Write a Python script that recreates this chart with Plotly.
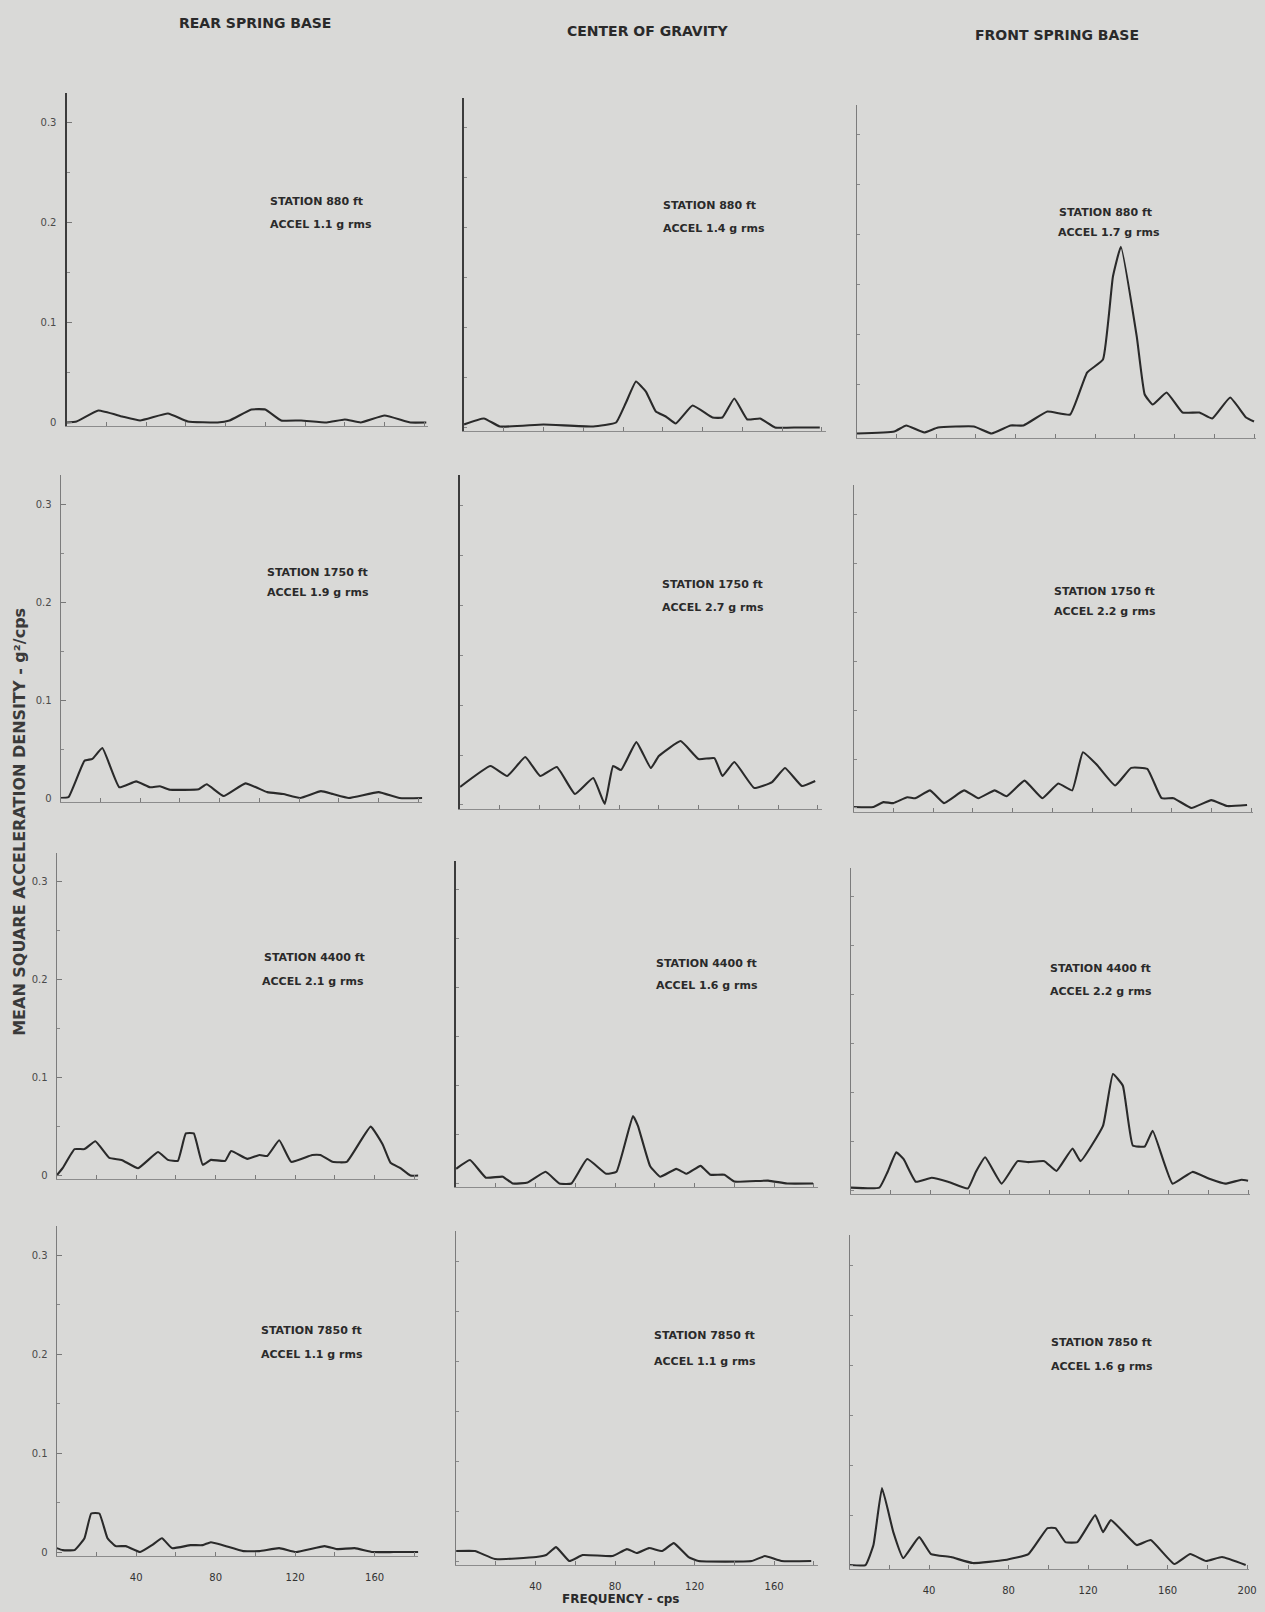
import plotly.graph_objects as go

W, H = 1265, 1612

column_titles = ["REAR SPRING BASE", "CENTER OF GRAVITY", "FRONT SPRING BASE"]
station_labels = [
    ["STATION 880 ft", "STATION 880 ft", "STATION 880 ft"],
    ["STATION 1750 ft", "STATION 1750 ft", "STATION 1750 ft"],
    ["STATION 4400 ft", "STATION 4400 ft", "STATION 4400 ft"],
    ["STATION 7850 ft", "STATION 7850 ft", "STATION 7850 ft"],
]
accel_labels = [
    ["ACCEL 1.1 g rms", "ACCEL 1.4 g rms", "ACCEL 1.7 g rms"],
    ["ACCEL 1.9 g rms", "ACCEL 2.7 g rms", "ACCEL 2.2 g rms"],
    ["ACCEL 2.1 g rms", "ACCEL 1.6 g rms", "ACCEL 2.2 g rms"],
    ["ACCEL 1.1 g rms", "ACCEL 1.1 g rms", "ACCEL 1.6 g rms"],
]
y_tick_vals = [0, 0.1, 0.2, 0.3]
y_tick_text = ["0", "0.1", "0.2", "0.3"]
x_tick_vals = [20, 40, 60, 80, 100, 120, 140, 160, 180, 200]
x_label_vals = [40, 80, 120, 160, 200]

# ---- data: frequency (cps) and mean square acceleration density (g^2/cps)
# Row 1 - station 880 ft
freq_r1c1 = [0, 5, 16, 28, 37, 51, 61, 76, 82, 93, 100, 108, 118, 131, 140, 148, 160, 173, 181]
psd_r1c1 = [0, 0.001, 0.012, 0.006, 0.002, 0.009, 0.001, 0, 0.002, 0.013, 0.013, 0.002, 0.002, 0, 0.003, 0, 0.007, 0, 0]
freq_r1c2 = [0, 10, 18, 40, 65, 76.5, 81.5, 86.5, 91.5, 96.5, 101.5, 106.5, 115, 125, 130, 136, 142.5, 149, 156.5, 168, 179]
psd_r1c2 = [0.003, 0.009, 0.001, 0.003, 0.001, 0.005, 0.025, 0.046, 0.036, 0.016, 0.011, 0.004, 0.022, 0.010, 0.010, 0.029, 0.008, 0.009, 0, 0, 0]
freq_r1c3 = [0, 19, 25, 34, 41, 59, 68, 77.5, 84, 96, 107.5, 116, 124, 129, 133, 141, 145, 149, 156, 164, 172.5, 179, 188, 196, 200]
psd_r1c3 = [0.001, 0.003, 0.009, 0.002, 0.007, 0.008, 0.001, 0.009, 0.009, 0.023, 0.020, 0.062, 0.075, 0.158, 0.188, 0.098, 0.040, 0.030, 0.042, 0.022, 0.022, 0.016, 0.037, 0.017, 0.013]
# Row 2 - station 1750 ft
freq_r2c1 = [0, 4, 12, 16, 21, 29.5, 38, 45, 50, 55, 69.5, 73.5, 82, 93, 104, 112, 120.5, 131, 137, 145, 160, 170.5, 182]
psd_r2c1 = [0, 0.001, 0.038, 0.040, 0.051, 0.011, 0.017, 0.011, 0.012, 0.0085, 0.009, 0.014, 0.002, 0.015, 0.006, 0.004, 0, 0.007, 0.004, 0, 0.006, 0, 0]
freq_r2c2 = [0, 15.3, 23.7, 32.8, 40.3, 48.7, 57.8, 67, 72.8, 77, 81, 88.7, 96, 100, 111, 120, 128, 132, 138, 148, 157, 163.5, 172, 178.7]
psd_r2c2 = [0.018, 0.039, 0.029, 0.048, 0.029, 0.038, 0.011, 0.027, 0.001, 0.039, 0.035, 0.063, 0.037, 0.049, 0.064, 0.046, 0.047, 0.029, 0.043, 0.017, 0.023, 0.037, 0.019, 0.024]
freq_r2c3 = [0, 10, 15, 20, 27, 31, 38.5, 45.5, 55.6, 62.8, 71, 77, 86, 95, 103, 110, 115.4, 122.5, 131.6, 139.7, 147.8, 155, 161, 170, 180, 188, 198]
psd_r2c3 = [0.001, 0.001, 0.006, 0.005, 0.011, 0.010, 0.018, 0.005, 0.018, 0.010, 0.018, 0.012, 0.028, 0.010, 0.025, 0.018, 0.057, 0.044, 0.023, 0.041, 0.040, 0.010, 0.010, 0, 0.008, 0.002, 0.003]
# Row 3 - station 4400 ft
freq_r3c1 = [0, 3, 9, 14, 19.5, 26.5, 32.7, 41, 51, 56, 61, 65, 69, 73.5, 77.6, 84.8, 87.8, 96, 102, 106, 112, 118, 128.6, 132.7, 138.8, 146, 158, 164, 168, 173, 178, 182]
psd_r3c1 = [0, 0.0075, 0.027, 0.027, 0.035, 0.018, 0.016, 0.0075, 0.024, 0.016, 0.015, 0.043, 0.043, 0.011, 0.016, 0.015, 0.025, 0.017, 0.021, 0.020, 0.036, 0.014, 0.021, 0.021, 0.014, 0.014, 0.050, 0.032, 0.013, 0.0075, 0, 0]
freq_r3c2 = [0, 7, 15, 23.5, 28.5, 36, 45, 52, 58, 66, 75.5, 80.7, 89, 91.5, 97.6, 102.7, 110.8, 116, 123, 128, 135, 140, 157, 166.5, 179.6]
psd_r3c2 = [0.015, 0.024, 0.006, 0.007, 0, 0.001, 0.012, 0, 0, 0.025, 0.010, 0.012, 0.069, 0.059, 0.018, 0.007, 0.015, 0.010, 0.018, 0.009, 0.009, 0.002, 0.003, 0, 0]
freq_r3c3 = [0, 14.5, 18.6, 23, 26.7, 32.8, 40.8, 49, 59, 63, 67.7, 76, 84, 89.4, 97.5, 103.6, 111.7, 115.7, 127, 132, 137, 142, 148, 152, 162, 172, 180.5, 188.5, 196.7, 200]
psd_r3c3 = [0.003, 0.003, 0.019, 0.039, 0.032, 0.009, 0.013, 0.009, 0.002, 0.019, 0.034, 0.007, 0.030, 0.029, 0.030, 0.020, 0.043, 0.030, 0.066, 0.119, 0.107, 0.046, 0.045, 0.061, 0.007, 0.019, 0.012, 0.007, 0.011, 0.010]
# Row 4 - station 7850 ft
freq_r4c1 = [0, 3, 9, 14, 17.4, 21.5, 25.6, 29.7, 34.8, 42, 48, 53, 58, 67.4, 73.5, 77.6, 83.7, 94, 102, 112, 120.5, 134.8, 141, 150, 159, 169.5, 182]
psd_r4c1 = [0.004, 0.002, 0.002, 0.014, 0.039, 0.039, 0.014, 0.006, 0.006, 0, 0.007, 0.014, 0.004, 0.007, 0.007, 0.010, 0.007, 0.001, 0.001, 0.004, 0, 0.006, 0.003, 0.004, 0, 0, 0]
freq_r4c2 = [0, 9.5, 19.5, 40.3, 45.3, 50.3, 57, 63.7, 78.7, 86, 91, 97, 103.7, 109.5, 117, 122, 148.7, 155.4, 163.7, 178.7]
psd_r4c2 = [0.010, 0.010, 0.002, 0.004, 0.006, 0.014, 0, 0.006, 0.005, 0.012, 0.008, 0.013, 0.010, 0.018, 0.004, 0, 0, 0.005, 0, 0]
freq_r4c3 = [0, 8, 12, 16.3, 22, 27, 35, 41, 51, 62, 78, 90, 99.6, 103.6, 108.6, 114.6, 123.6, 127.5, 131.5, 144.5, 151.5, 163.4, 171.4, 179.4, 187.4, 199.3]
psd_r4c3 = [0, 0, 0.020, 0.077, 0.033, 0.007, 0.028, 0.011, 0.008, 0.002, 0.005, 0.011, 0.037, 0.037, 0.023, 0.023, 0.050, 0.033, 0.045, 0.020, 0.025, 0.001, 0.011, 0.004, 0.008, 0]

freqs = [[freq_r1c1, freq_r1c2, freq_r1c3], [freq_r2c1, freq_r2c2, freq_r2c3],
         [freq_r3c1, freq_r3c2, freq_r3c3], [freq_r4c1, freq_r4c2, freq_r4c3]]
psds = [[psd_r1c1, psd_r1c2, psd_r1c3], [psd_r2c1, psd_r2c2, psd_r2c3],
        [psd_r3c1, psd_r3c2, psd_r3c3], [psd_r4c1, psd_r4c2, psd_r4c3]]

# ---- layout (pixel geometry of each panel: axis x, zero y, px per 0.1, x max)
panel_x0 = [[67, 467, 862], [61, 463, 859], [57, 459, 856], [57, 459, 855]]
panel_y0 = [[423, 428, 435], [799, 806, 809], [1177, 1185, 1192], [1554, 1563, 1567]]
panel_s = [[100, 100, 100], [98, 100, 98], [98, 98, 98], [99, 100, 100]]
panel_xmax = [182, 182, 201]
axis_w = [[2.2, 2.2, 1.0], [1.0, 2.0, 1.0], [1.0, 2.0, 1.4], [1.0, 1.0, 1.0]]
# left edge x and row y of the STATION / ACCEL text lines
text_pos = [
    [[(270, 202), (270, 225)], [(665, 206), (665, 229)], [(1064, 213), (1063, 233)]],
    [[(267, 573), (267, 593)], [(664, 585), (664, 608)], [(1059, 592), (1059, 612)]],
    [[(264, 959), (262, 983)], [(658, 965), (658, 987)], [(1055, 970), (1055, 993)]],
    [[(261, 1332), (261, 1356)], [(656, 1337), (656, 1363)], [(1056, 1344), (1056, 1368)]],
]

YMIN, YMAX = -0.004, 0.33
BG = "#d9d9d7"
INK = "#2a2a2a"
FONT = "DejaVu Sans"

fig = go.Figure()
layout = {}
annotations = []

for r in range(4):
    for c in range(3):
        k = r * 3 + c + 1
        xa = "xaxis" if k == 1 else f"xaxis{k}"
        ya = "yaxis" if k == 1 else f"yaxis{k}"
        xr = "x" if k == 1 else f"x{k}"
        yr = "y" if k == 1 else f"y{k}"
        x0 = panel_x0[r][c]
        y0 = panel_y0[r][c]
        ppu = panel_s[r][c] * 10.0
        xmax = panel_xmax[c]
        x1 = x0 + 2.0 * xmax
        ybot = y0 - YMIN * ppu
        ytop = y0 - YMAX * ppu
        fig.add_trace(go.Scatter(
            x=freqs[r][c], y=psds[r][c], mode="lines",
            line=dict(color=INK, width=2.1, shape="spline", smoothing=0.35),
            xaxis=xr, yaxis=yr, showlegend=False, hoverinfo="x+y"))
        bottom = (r == 3)
        ttext = [str(v) if (bottom and v in x_label_vals) else "" for v in x_tick_vals]
        layout[xa] = dict(
            domain=[x0 / W, min(x1 / W, 1.0)], range=[0, xmax], anchor=yr,
            showgrid=False, zeroline=False, showline=True, linecolor="#8c8c8c", linewidth=1,
            ticks="inside", ticklen=4, tickcolor="#7a7a7a", tickwidth=1,
            tickmode="array", tickvals=x_tick_vals, ticktext=ttext,
            ticklabelstandoff=12,
            tickfont=dict(family=FONT, size=10, color="#333333"),
        )
        ylab = (c == 0)
        layout[ya] = dict(
            domain=[(H - ybot) / H, (H - ytop) / H], range=[YMIN, YMAX], anchor=xr,
            showgrid=False, zeroline=False, showline=True,
            linecolor="#3c3c3c" if axis_w[r][c] > 1.5 else "#7c7c7c",
            linewidth=axis_w[r][c],
            ticks="inside", ticklen=5, tickcolor="#777777", tickwidth=1,
            tickmode="array", tickvals=y_tick_vals,
            ticktext=y_tick_text if ylab else ["", "", "", ""],
            showticklabels=ylab, ticklabelstandoff=6,
            tickfont=dict(family=FONT, size=10, color="#4a4a4a"),
            minor=dict(dtick=0.05, tick0=0, ticks="inside", ticklen=3, tickcolor="#888888"),
        )
        (sx, sy), (ax_, ay_) = text_pos[r][c]
        annotations.append(dict(x=sx / W, y=1 - sy / H, xref="paper", yref="paper",
                                xanchor="left", yanchor="middle",
                                text="<b>" + station_labels[r][c] + "</b>", showarrow=False,
                                font=dict(family=FONT, size=11, color=INK)))
        annotations.append(dict(x=ax_ / W, y=1 - ay_ / H, xref="paper", yref="paper",
                                xanchor="left", yanchor="middle",
                                text="<b>" + accel_labels[r][c] + "</b>", showarrow=False,
                                font=dict(family=FONT, size=11, color=INK)))

title_pos = [(257, 23), (652, 31), (1064, 35)]
for t, (tx, ty) in zip(column_titles, title_pos):
    annotations.append(dict(x=tx / W, y=1 - ty / H, xref="paper", yref="paper", text="<b>" + t + "</b>",
                            xanchor="center", yanchor="middle",
                            showarrow=False, font=dict(family=FONT, size=14, color=INK)))

annotations.append(dict(x=20 / W, y=1 - 823 / H, xref="paper", yref="paper",
                        xanchor="center", yanchor="middle",
                        text="<b>MEAN SQUARE ACCELERATION DENSITY - g²/cps</b>", textangle=-90,
                        showarrow=False, font=dict(family=FONT, size=16, color="#3a3a3a")))
annotations.append(dict(x=625 / W, y=1 - 1601 / H, xref="paper", yref="paper",
                        xanchor="center", yanchor="middle",
                        text="<b>FREQUENCY - cps</b>", showarrow=False,
                        font=dict(family=FONT, size=12, color=INK)))

fig.update_layout(
    width=W, height=H, margin=dict(l=0, r=0, t=0, b=0),
    paper_bgcolor=BG, plot_bgcolor=BG,
    annotations=annotations, showlegend=False, **layout)

fig.write_html("out.html")
